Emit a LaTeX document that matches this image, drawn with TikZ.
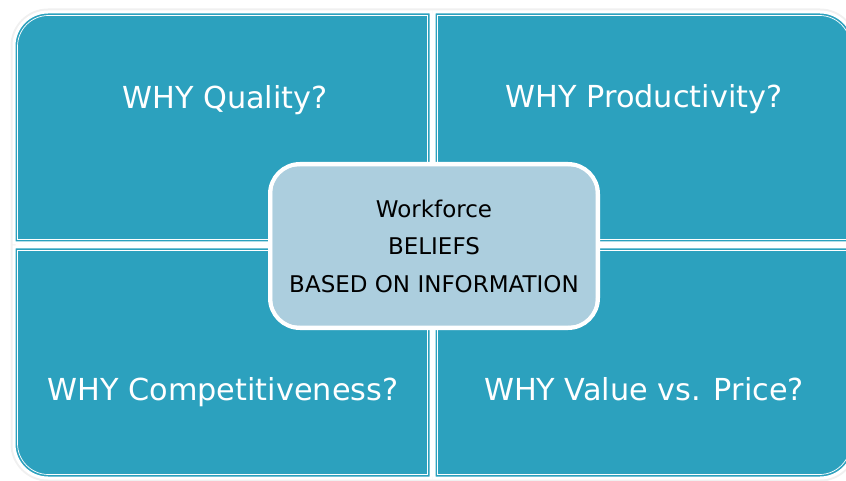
\documentclass[tikz,border=0pt]{standalone}
\usepackage{fontspec}
\setmainfont{DejaVu Sans}
\usetikzlibrary{positioning}
\definecolor{quadblue}{RGB}{44,161,190}
\definecolor{hubblue}{RGB}{172,206,222}
\begin{document}
\begin{tikzpicture}[x=1pt, y=-1pt,
    quadrant/.style={fill=quadblue, draw=white, line width=3pt},
    innerline/.style={draw=white, line width=0.7pt},
    why/.style={text=white, anchor=base, font=\fontsize{30.3}{36}\selectfont},
    hub/.style={fill=hubblue, draw=white, line width=4pt, rounded corners=30pt,
      minimum width=328pt, minimum height=164pt, align=center, text=black,
      font=\fontsize{23}{37.5}\selectfont}]
    \useasboundingbox (0,0) rectangle (846,481);
    \draw[gray!12, line width=5pt, rounded corners=35pt] (13,11) rectangle (855,479);
    \path[quadrant] (14,243) -- (14,46) .. controls (14,27.2) and (29.2,12) .. (48,12) -- (431,12) -- (431,243) -- cycle;
    \path[quadrant] (434,243) -- (434,12) -- (820,12) .. controls (838.8,12) and (854,27.2) .. (854,46) -- (854,243) -- cycle;
    \path[quadrant] (14,247) -- (14,444) .. controls (14,462.8) and (29.2,478) .. (48,478) -- (431,478) -- (431,247) -- cycle;
    \path[quadrant] (434,247) -- (434,478) -- (820,478) .. controls (838.8,478) and (854,462.8) .. (854,444) -- (854,247) -- cycle;
    \path[innerline] (17.5,239.5) -- (17.5,46.5) .. controls (17.5,29.4) and (31.4,15.5) .. (48.5,15.5) -- (427.5,15.5) -- (427.5,239.5) -- cycle;
    \path[innerline] (437.5,239.5) -- (437.5,15.5) -- (819.5,15.5) .. controls (836.6,15.5) and (850.5,29.4) .. (850.5,46.5) -- (850.5,239.5) -- cycle;
    \path[innerline] (17.5,250.5) -- (17.5,443.5) .. controls (17.5,460.6) and (31.4,474.5) .. (48.5,474.5) -- (427.5,474.5) -- (427.5,250.5) -- cycle;
    \path[innerline] (437.5,250.5) -- (437.5,474.5) -- (819.5,474.5) .. controls (836.6,474.5) and (850.5,460.6) .. (850.5,443.5) -- (850.5,250.5) -- cycle;
    \node[why] (quality) at (225,109) {WHY Quality?};
    \node[why] (productivity) at (644,108) {WHY Productivity?};
    \node[why] (competitiveness) at (223,400) {WHY Competitiveness?};
    \node[why] (value) at (644,400) {WHY Value vs. Price?};
    \node[hub] (beliefs) at (434,246) {Workforce\\BELIEFS\\BASED ON INFORMATION};
    \draw[white, line width=0.7pt, rounded corners=26pt] ([xshift=4pt,yshift=-4pt]beliefs.north west) rectangle ([xshift=-4pt,yshift=4pt]beliefs.south east);
\end{tikzpicture}
\end{document}
